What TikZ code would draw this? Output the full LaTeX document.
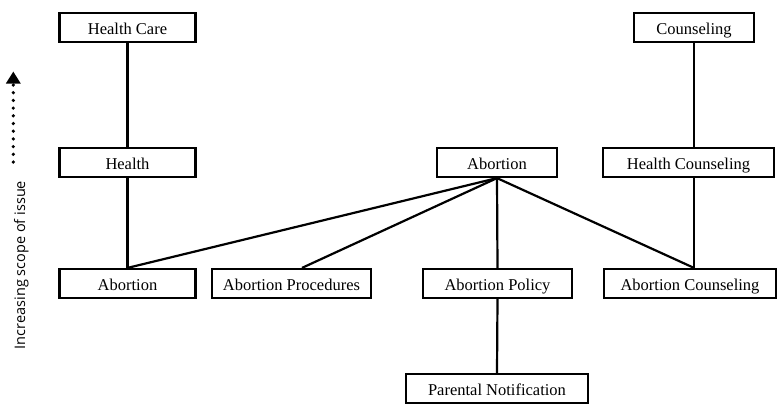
\documentclass[tikz,border=0pt]{standalone}
\usepackage{fontspec}
\setmainfont{Liberation Serif}
\newfontfamily\labelsans{Open Sans}
\usetikzlibrary{arrows.meta}

\tikzset{
  topic/.style={draw, rectangle, line width=2.2pt, inner sep=0pt,
    minimum height=29pt, text height=13pt, text depth=0pt,
    font=\fontsize{16.5}{18}\selectfont},
  link/.style={line width=2.2pt},
  scopearrow/.style={line width=3.6pt, line cap=round, dash pattern=on 0pt off 7.7pt,
    -{Triangle[width=14pt,length=12pt]}},
  scopelabel/.style={font=\labelsans\fontsize{14.5}{16}\selectfont, rotate=90, anchor=base, inner sep=0pt}
}

\begin{document}
\begin{tikzpicture}[x=1pt, y=-1pt]
  \useasboundingbox (0,0) rectangle (777,405);

  % top row
  \node[topic, minimum width=136pt] (hcare) at (127.5,27.5) {Health Care};
  \node[topic, minimum width=120pt] (coun)  at (694,27.5)   {Counseling};

  % middle row
  \node[topic, minimum width=136pt] (health) at (127.5,162.5) {Health};
  \node[topic, minimum width=120pt] (abmid)  at (497,162.5)   {Abortion};
  \node[topic, minimum width=171pt] (hcoun)  at (688.5,162.5) {Health Counseling};

  % bottom row
  \node[topic, minimum width=136pt] (abl)   at (127.5,283.5) {Abortion};
  \node[topic, minimum width=159pt] (proc)  at (291.5,283.5) {Abortion Procedures};
  \node[topic, minimum width=149pt] (pol)   at (497.5,283.5) {Abortion Policy};
  \node[topic, minimum width=172pt] (acoun) at (690,283.5)   {Abortion Counseling};

  % lowest level
  \node[topic, minimum width=182pt] (parent) at (497,388.5) {Parental Notification};

  % hierarchy links
  \draw[link] (hcare.south) -- (health.north);
  \draw[link] (health.south) -- (abl.north);
  \draw[link] (abmid.south) -- (abl.north);
  \draw[link] (abmid.south) -- ([xshift=10.5pt]proc.north);
  \draw[link] (abmid.south) -- (pol.north);
  \draw[link] (abmid.south) -- (acoun.north -| coun.south);
  \draw[link] (coun.south) -- (coun.south |- hcoun.north);
  \draw[link] (hcoun.south -| coun.south) -- (acoun.north -| coun.south);
  \draw[link] (pol.south) -- (parent.north);

  % scope indicator
  \coordinate (scopelow)  at (13.3,162);
  \coordinate (scopehigh) at (13.3,71.5);
  \draw[scopearrow] (scopelow) -- (scopehigh);
  \node[scopelabel] (scopetext) at (25,265) {Increasing scope of issue};
\end{tikzpicture}
\end{document}
